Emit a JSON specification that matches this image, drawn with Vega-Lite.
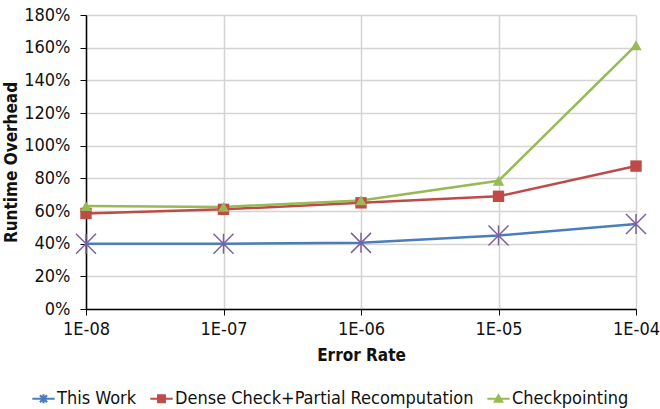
{
  "$schema": "https://vega.github.io/schema/vega-lite/v6.json",
  "width": 550,
  "height": 294,
  "autosize": {"type": "none"},
  "padding": {"left": 86, "top": 15, "right": 24, "bottom": 100},
  "background": "white",
  "config": {
    "view": {"stroke": null},
    "font": "DejaVu Sans Condensed",
    "axis": {"labelFont": "DejaVu Sans Condensed", "titleFont": "DejaVu Sans Condensed", "labelColor": "#111", "titleColor": "#111", "gridColor": "#d4d4d4", "gridWidth": 1.5, "domainColor": "#000", "tickColor": "#000"},
    "legend": {"labelFont": "DejaVu Sans Condensed", "labelColor": "#111"}
  },
  "data": {
    "values": [
      {"rate": "1E-08", "series": "This Work", "v": 0.40},
      {"rate": "1E-07", "series": "This Work", "v": 0.40},
      {"rate": "1E-06", "series": "This Work", "v": 0.405},
      {"rate": "1E-05", "series": "This Work", "v": 0.45},
      {"rate": "1E-04", "series": "This Work", "v": 0.52},
      {"rate": "1E-08", "series": "Dense Check+Partial Recomputation", "v": 0.585},
      {"rate": "1E-07", "series": "Dense Check+Partial Recomputation", "v": 0.61},
      {"rate": "1E-06", "series": "Dense Check+Partial Recomputation", "v": 0.65},
      {"rate": "1E-05", "series": "Dense Check+Partial Recomputation", "v": 0.69},
      {"rate": "1E-04", "series": "Dense Check+Partial Recomputation", "v": 0.875},
      {"rate": "1E-08", "series": "Checkpointing", "v": 0.63},
      {"rate": "1E-07", "series": "Checkpointing", "v": 0.625},
      {"rate": "1E-06", "series": "Checkpointing", "v": 0.665},
      {"rate": "1E-05", "series": "Checkpointing", "v": 0.785},
      {"rate": "1E-04", "series": "Checkpointing", "v": 1.615}
    ]
  },
  "encoding": {
    "x": {
      "field": "rate", "type": "ordinal",
      "sort": ["1E-08", "1E-07", "1E-06", "1E-05", "1E-04"],
      "scale": {"type": "point", "padding": 0},
      "axis": {"title": "Error Rate", "titleFontSize": 17, "titleFontWeight": "bold", "titlePadding": 9, "labelFontSize": 18, "labelAngle": 0, "labelPadding": 5, "grid": true, "tickSize": 6, "domainWidth": 1.5, "labelOverlap": false}
    },
    "y": {
      "field": "v", "type": "quantitative",
      "scale": {"domain": [0, 1.8], "nice": false},
      "axis": {"title": "Runtime Overhead", "titleFontSize": 17, "titleFontWeight": "bold", "titlePadding": 3, "labelFontSize": 18, "format": ".0%", "values": [0, 0.2, 0.4, 0.6, 0.8, 1.0, 1.2, 1.4, 1.6, 1.8], "tickSize": 6, "domainWidth": 1.5, "labelPadding": 10}
    }
  },
  "layer": [
    {
      "mark": {"type": "line", "strokeWidth": 2.5},
      "encoding": {
        "color": {
          "field": "series", "type": "nominal",
          "scale": {"domain": ["This Work", "Dense Check+Partial Recomputation", "Checkpointing"], "range": ["#4a7ebb", "#be4b48", "#98b954"]},
          "legend": {
            "title": null, "orient": "none", "legendX": -55, "legendY": 371, "direction": "horizontal",
            "labelFontSize": 18, "labelLimit": 0, "symbolSize": 500, "symbolStrokeWidth": 2.2, "columnPadding": 8, "labelOffset": 1,
            "encode": {
              "symbols": {
                "update": {
                  "shape": {"signal": "datum.value == 'This Work' ? 'M-1,0H1M-0.32,-0.32L0.32,0.32M-0.32,0.32L0.32,-0.32M0,-0.4V0.4' : datum.value == 'Checkpointing' ? 'M-1,0H1M-0.32,0.25L0,-0.3L0.32,0.25Z' : 'M-1,0H1M-0.3,-0.3H0.3V0.3H-0.3Z'"},
                  "fill": {"signal": "scale('color', datum.value)"}
                }
              }
            }
          }
        }
      }
    },
    {
      "transform": [{"filter": "datum.series != 'This Work'"}],
      "mark": {"type": "point", "filled": true, "size": 130, "opacity": 1},
      "encoding": {
        "shape": {"field": "series", "type": "nominal", "scale": {"domain": ["Dense Check+Partial Recomputation", "Checkpointing"], "range": ["square", "triangle-up"]}, "legend": null},
        "color": {"field": "series", "type": "nominal", "scale": {"domain": ["This Work", "Dense Check+Partial Recomputation", "Checkpointing"], "range": ["#4a7ebb", "#be4b48", "#98b954"]}, "legend": null}
      }
    },
    {
      "transform": [{"filter": "datum.series == 'This Work'"}],
      "mark": {"type": "point", "shape": "M-1,-1L1,1M-1,1L1,-1M0,-1V1", "size": 400, "filled": false, "stroke": "#7d60a0", "strokeWidth": 1.5, "opacity": 1}
    }
  ]
}
